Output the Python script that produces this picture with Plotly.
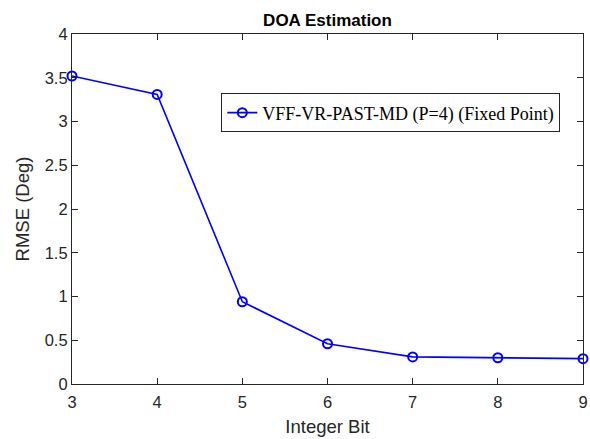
import plotly.graph_objects as go

integer_bits = [3, 4, 5, 6, 7, 8, 9]
rmse_deg = [3.52, 3.31, 0.94, 0.46, 0.31, 0.30, 0.29]
series_name = "VFF-VR-PAST-MD (P=4) (Fixed Point)"
x_ticks = [3, 4, 5, 6, 7, 8, 9]
y_ticks = [0, 0.5, 1, 1.5, 2, 2.5, 3, 3.5, 4]
y_tick_text = ["0", "0.5", "1", "1.5", "2", "2.5", "3", "3.5", "4"]

fig = go.Figure()
fig.add_trace(go.Scatter(
    x=integer_bits, y=rmse_deg, mode="lines+markers", name=series_name,
    line=dict(color="#0000ff", width=1.6),
    marker=dict(symbol="circle-open", size=9, color="#0000ff", line=dict(width=2, color="#0000ff")),
    cliponaxis=False,
))

axis_common = dict(
    showline=True, mirror="ticks", linecolor="#262626", linewidth=1.2,
    ticks="inside", ticklen=6, tickcolor="#262626", tickwidth=1.2,
    showgrid=False, zeroline=False, automargin=False,
    tickfont=dict(family="Liberation Sans, Arial", size=16.5, color="#262626"),
)

fig.update_layout(
    width=590, height=439,
    margin=dict(l=72, r=7, t=34, b=55),
    paper_bgcolor="white", plot_bgcolor="white",
    title=dict(text="<b>DOA Estimation</b>", x=0.5, xref="paper", xanchor="center",
               y=0.954, yanchor="middle", automargin=False,
               font=dict(family="Liberation Sans, Arial", size=17, color="black")),
    xaxis=dict(range=[3, 9], tickvals=x_ticks, ticklabelstandoff=3, **axis_common,
               title=dict(text="Integer Bit", standoff=10,
                          font=dict(family="Liberation Sans, Arial", size=18.5, color="#262626"))),
    yaxis=dict(range=[0, 4], tickvals=y_ticks, ticktext=y_tick_text, **axis_common,
               title=dict(text="RMSE (Deg)", standoff=10,
                          font=dict(family="Liberation Sans, Arial", size=18.5, color="#262626"))),
    legend=dict(x=0.2916, y=0.831, xanchor="left", yanchor="top",
                bordercolor="#262626", borderwidth=1.3, bgcolor="white",
                font=dict(family="Liberation Serif, Times New Roman", size=18, color="black"),
                itemwidth=30),
    showlegend=True,
)

fig.write_html("out.html", config={"displayModeBar": False},
               post_script="document.body.style.margin='0';document.body.style.overflow='hidden';")
